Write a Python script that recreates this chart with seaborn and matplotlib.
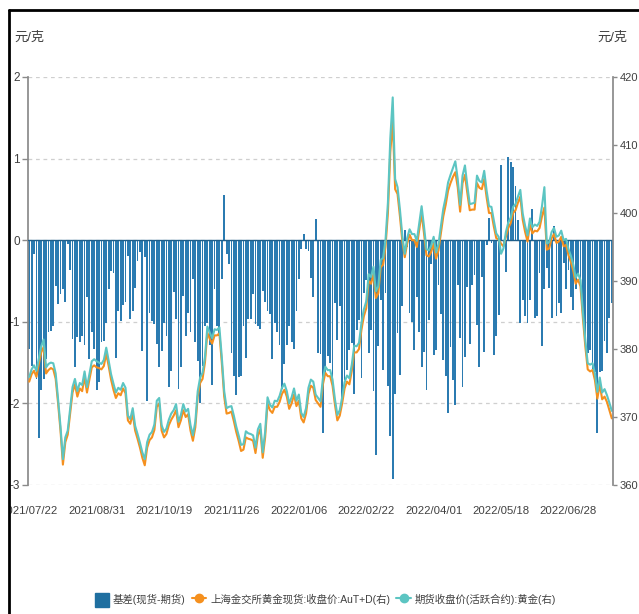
import numpy as np
import pandas as pd
import seaborn as sns
import matplotlib.pyplot as plt
from matplotlib.lines import Line2D
from matplotlib.patches import Patch, Rectangle

#%% Data (one value per trading day, 2021/07/22 onward)

# 基差(现货-期货), left axis
basis = [
    -1.33, -1.54, -0.17, -1.70, -2.42, -1.84, -1.70, -1.46, -1.13, -1.11,
    -1.05, -0.56, -0.78, -0.66, -0.60, -0.76, -0.05, -0.36, -1.21, -1.56,
    -1.19, -1.25, -1.17, -1.29, -0.70, -1.46, -1.13, -1.33, -1.84, -1.74,
    -1.25, -1.23, -1.01, -0.60, -0.38, -0.40, -1.44, -0.87, -0.99, -0.80,
    -0.76, -0.19, -0.97, -0.87, -0.58, -0.25, -0.15, -1.36, -0.21, -1.97,
    -0.89, -0.99, -1.03, -1.27, -1.56, -1.36, -1.01, -1.17, -1.80, -1.60,
    -0.64, -0.97, -1.82, -1.56, -0.68, -1.17, -0.89, -1.13, -0.48, -1.25,
    -1.48, -1.99, -1.54, -1.05, -1.01, -1.29, -1.78, -0.60, -1.05, -1.17,
    -0.48, 0.56, -0.17, -0.29, -1.38, -1.66, -1.90, -1.68, -1.66, -1.05,
    -1.44, -0.97, -0.97, -0.66, -1.03, -1.05, -1.09, -0.62, -0.76, -0.87,
    -0.91, -1.46, -1.01, -1.13, -1.29, -1.82, -1.52, -1.29, -1.05, -1.25,
    -1.33, -0.87, -0.48, -0.11, 0.07, -0.11, -0.13, -0.46, -0.70, 0.26,
    -1.38, -1.40, -2.36, -1.63, -1.42, -1.50, -1.83, -0.77, -1.22, -0.81,
    -1.96, -1.71, -1.59, -1.34, -1.26, -1.89, -1.10, -0.98, -1.69, -0.65,
    -0.49, -1.38, -1.10, -1.85, -2.63, -1.30, -0.73, -1.59, -0.65, -1.79,
    -2.40, -2.93, -1.89, -1.14, -1.65, -0.81, 0.13, -0.08, -0.89, -1.00,
    -1.34, -0.70, -1.12, -1.55, -1.37, -1.84, -0.98, -0.29, -1.41, -1.35,
    -0.55, -0.90, -1.47, -1.67, -2.12, -1.31, -1.71, -2.02, -0.55, -1.20,
    -1.80, -1.43, -0.57, -1.27, -0.55, -0.43, -1.04, -1.55, -0.45, -1.37,
    -0.06, 0.27, -0.04, -1.41, -1.18, -0.92, 0.92, -0.04, -0.39, 1.02,
    0.96, 0.90, 0.67, 0.25, -1.01, -0.73, -0.93, -1.01, -0.73, 0.38,
    -0.95, -0.93, -0.40, -1.30, -0.60, -0.34, -0.58, -0.95, 0.17, -0.93,
    -0.77, -0.89, -0.28, -0.60, -0.36, -0.69, -0.85, -0.60, -0.44, -0.62,
    -0.89, -1.22, -1.38, -1.34, -1.58, -1.62, -2.36, -1.62, -1.60, -1.24,
    -1.38, -0.95, -0.77,
]

# 上海金交所黄金现货:收盘价:AuT+D, right axis
spot = [
    375.2, 376.3, 376.8, 375.9, 377.8, 379.5, 380.3, 376.4, 376.9, 377.2,
    377.0, 375.6, 372.0, 368.0, 363.0, 366.3, 367.4, 370.5, 373.6, 374.8,
    373.0, 374.2, 373.8, 375.9, 373.6, 375.5, 377.3, 377.6, 377.3, 377.2,
    377.0, 377.5, 379.3, 377.5, 375.5, 374.0, 372.8, 373.5, 373.2, 374.2,
    373.5, 369.5, 369.0, 370.5, 368.0, 366.8, 365.5, 364.0, 362.9, 365.5,
    366.6, 367.0, 368.1, 371.5, 372.0, 368.0, 367.0, 367.5, 368.8, 369.6,
    370.2, 371.0, 368.5, 369.5, 371.0, 370.0, 370.4, 368.0, 366.5, 368.5,
    373.0, 375.0, 375.6, 378.0, 382.4, 381.5, 380.8, 382.0, 382.0, 382.3,
    378.0, 373.0, 370.5, 370.6, 370.8, 369.4, 367.8, 366.5, 365.0, 365.2,
    367.0, 366.8, 366.7, 366.5, 364.7, 367.3, 368.2, 364.0, 367.0, 372.0,
    371.0, 370.6, 371.5, 371.5, 372.2, 373.4, 374.0, 373.0, 371.2, 372.0,
    373.3, 371.6, 372.4, 369.8, 369.2, 370.5, 373.4, 374.6, 374.3, 372.5,
    372.0, 371.5, 374.8, 376.5, 376.0, 376.0, 374.6, 371.8, 369.5, 370.2,
    372.0, 374.2, 375.2, 374.8, 376.8, 379.5, 379.5, 380.0, 382.8, 384.8,
    386.0, 390.0, 389.6, 391.0, 387.5, 388.2, 392.0, 392.4, 395.0, 400.0,
    409.0, 413.5, 403.5, 402.8, 399.5, 395.8, 393.5, 395.5, 396.8, 396.0,
    396.0, 395.0, 397.5, 400.0, 397.0, 393.8, 393.6, 394.3, 395.5, 393.3,
    394.5, 397.0, 399.5, 401.2, 403.3, 404.4, 405.3, 406.0, 403.8, 400.2,
    404.4, 405.6, 402.9, 400.4, 400.5, 400.5, 404.4, 403.7, 403.5, 405.0,
    402.3, 400.0, 400.0, 398.0, 396.3, 396.1, 395.5, 395.1, 396.5, 397.8,
    398.5, 400.0, 400.4, 401.5, 402.4, 399.0, 397.2, 395.8, 398.3, 397.0,
    397.4, 397.3, 397.8, 399.5, 400.8, 394.6, 394.8, 396.3, 396.9, 395.6,
    395.8, 396.5, 395.1, 395.3, 393.8, 392.8, 391.5, 389.6, 390.2, 389.2,
    384.5, 380.4, 377.0, 376.7, 376.9, 375.4, 372.7, 374.8, 372.6, 373.0,
    372.2, 371.0, 369.8,
]

# 期货收盘价(活跃合约):黄金, right axis
futures = [
    375.9, 377.0, 377.6, 376.8, 378.6, 380.4, 381.4, 377.3, 377.8, 378.0,
    377.9, 376.4, 372.6, 368.6, 363.8, 367.0, 368.0, 371.2, 374.4, 375.6,
    373.8, 375.0, 374.7, 376.7, 374.4, 376.3, 378.2, 378.5, 378.2, 378.0,
    377.8, 378.4, 380.2, 378.3, 376.3, 374.9, 373.6, 374.3, 374.0, 375.0,
    374.3, 370.2, 369.7, 371.3, 368.7, 367.5, 366.2, 364.8, 363.8, 366.3,
    367.4, 367.8, 368.9, 372.4, 372.8, 368.8, 367.8, 368.3, 369.6, 370.5,
    371.0, 371.9, 369.3, 370.3, 371.9, 370.8, 371.2, 368.8, 367.3, 369.3,
    373.8, 375.8, 376.5, 378.8, 383.3, 382.4, 381.6, 382.9, 382.8, 383.2,
    378.8, 373.8, 371.3, 371.5, 371.6, 370.2, 368.6, 367.3, 365.9, 366.0,
    367.9, 367.6, 367.5, 367.3, 365.5, 368.2, 369.0, 364.8, 367.8, 372.9,
    371.8, 371.4, 372.4, 372.3, 373.1, 374.3, 374.9, 373.8, 372.0, 372.9,
    374.2, 372.4, 373.3, 370.6, 370.0, 371.3, 374.3, 375.5, 375.2, 373.3,
    372.8, 372.3, 375.7, 377.4, 376.9, 376.9, 375.5, 372.6, 370.3, 371.0,
    372.9, 375.1, 376.1, 375.7, 377.7, 380.5, 380.4, 380.9, 383.8, 385.8,
    387.0, 391.0, 390.6, 392.1, 388.5, 389.2, 393.1, 393.4, 396.0, 401.5,
    411.0, 417.0, 405.0, 403.8, 400.5, 396.6, 394.0, 396.3, 397.6, 396.9,
    396.9, 395.9, 398.5, 401.0, 398.0, 394.7, 394.5, 395.2, 396.5, 394.2,
    395.4, 398.0, 400.6, 402.3, 404.5, 405.6, 406.6, 407.6, 405.0, 401.2,
    405.5, 407.0, 404.0, 401.3, 401.4, 401.5, 405.5, 404.7, 404.5, 406.2,
    403.3, 401.0, 400.9, 398.9, 397.0, 396.5, 394.0, 394.8, 397.2, 398.6,
    399.3, 400.9, 401.3, 402.4, 403.4, 399.9, 398.1, 396.7, 399.2, 397.9,
    398.3, 398.1, 398.7, 401.0, 403.8, 395.5, 395.7, 397.2, 397.8, 396.5,
    396.7, 397.4, 396.0, 396.2, 394.7, 393.7, 392.4, 390.5, 391.1, 390.1,
    385.4, 381.3, 377.9, 377.7, 377.9, 376.4, 373.7, 375.8, 373.6, 374.1,
    373.2, 372.1, 370.9,
]

# x labels shown every 28 trading days
date_labels = ['2021/07/22', '2021/08/31', '2021/10/19', '2021/11/26', '2022/01/06',
               '2022/02/22', '2022/04/01', '2022/05/18', '2022/06/28']
left_ticks = [2, 1, 0, -1, -2, -3]
right_ticks = [420, 410, 400, 390, 380, 370, 360]

series_names = ['基差(现货-期货)', '上海金交所黄金现货:收盘价:AuT+D(右)', '期货收盘价(活跃合约):黄金(右)']

#%% Styling
c_bar = '#2b7bb1'
c_spot = '#f5901e'
c_fut = '#5cc5c2'
c_axis = '#8a8a8a'
c_text = '#404040'

sns.set_theme(style='white')
plt.rcParams['font.family'] = ['Liberation Sans', 'Noto Sans CJK SC', 'DejaVu Sans']

n = len(basis)
df = pd.DataFrame({'idx': np.arange(n), 'basis': basis, 'spot': spot, 'futures': futures})

W, H = 639, 614
fig = plt.figure(figsize=(W / 100, H / 100), dpi=100)
ax = fig.add_axes([28 / W, 129 / H, 585 / W, 408 / H])

# bars on the left axis
sns.barplot(data=df, x='idx', y='basis', color=c_bar, saturation=1, width=0.74,
            linewidth=0, ax=ax)
ax.axhline(0, color='#1f5f8b', lw=1.0, zorder=3)
ax.set_ylim(-3, 2)
ax.set_yticks(left_ticks)
ax.set_yticklabels([str(t) for t in left_ticks])
ax.yaxis.grid(True, linestyle=(0, (3, 3)), color='#cfcfcf', lw=0.9)
ax.set_axisbelow(True)

# lines on the right axis
ax2 = ax.twinx()
sns.lineplot(data=df, x='idx', y='spot', color=c_spot, lw=1.5, ax=ax2)
sns.lineplot(data=df, x='idx', y='futures', color=c_fut, lw=1.5, ax=ax2)
ax2.set_ylim(360, 420)
ax2.set_yticks(right_ticks)

ax.set_xlim(-0.5, n - 0.5)
ax.set_xticks(np.arange(len(date_labels)) * 28)
ax.set_xticklabels(date_labels)
for a in (ax, ax2):
    a.set_xlabel('')
    a.set_ylabel('')
    for s in a.spines.values():
        s.set_visible(False)
ax.spines['left'].set_visible(True)
ax.spines['left'].set_color(c_axis)
ax2.spines['right'].set_visible(True)
ax2.spines['right'].set_color(c_axis)

ax.tick_params(axis='x', length=0, pad=15, labelsize=8.2, labelcolor=c_text)
ax.tick_params(axis='y', left=True, length=4, width=1, color=c_axis, pad=2,
               labelsize=8.5, labelcolor=c_text)
ax2.tick_params(axis='y', right=True, length=3, width=1, color=c_axis, pad=1.5,
                labelsize=8, labelcolor=c_text)

# unit labels
fig.text(14 / W, 1 - 38 / H, '元/克', ha='left', va='center', fontsize=9.5, color=c_text)
fig.text(628 / W, 1 - 38 / H, '元/克', ha='right', va='center', fontsize=9.5, color=c_text)

# legend
handles = [Patch(color='#1f6fa0'),
           Line2D([], [], color=c_spot, marker='o', ms=6, lw=1.5),
           Line2D([], [], color=c_fut, marker='o', ms=6, lw=1.5)]
fig.legend(handles, series_names, loc='center', bbox_to_anchor=(0.509, 1 - 600 / H),
           ncol=3, frameon=False, fontsize=7.5, handlelength=1.4, handleheight=1.6,
           columnspacing=0.6, handletextpad=0.35, labelcolor=c_text)

# outer frame (cut off on the right and bottom)
fig.add_artist(Rectangle((0, 0), 8 / W, 1, transform=fig.transFigure,
                         color='white', zorder=20))
fig.add_artist(Line2D([9 / W, 9 / W], [0, 1 - 10 / H], transform=fig.transFigure,
                      color='black', lw=2, zorder=21))
fig.add_artist(Line2D([9 / W, 1], [1 - 10 / H, 1 - 10 / H], transform=fig.transFigure,
                      color='black', lw=2, zorder=21))

fig.savefig('out.png', dpi=100)
